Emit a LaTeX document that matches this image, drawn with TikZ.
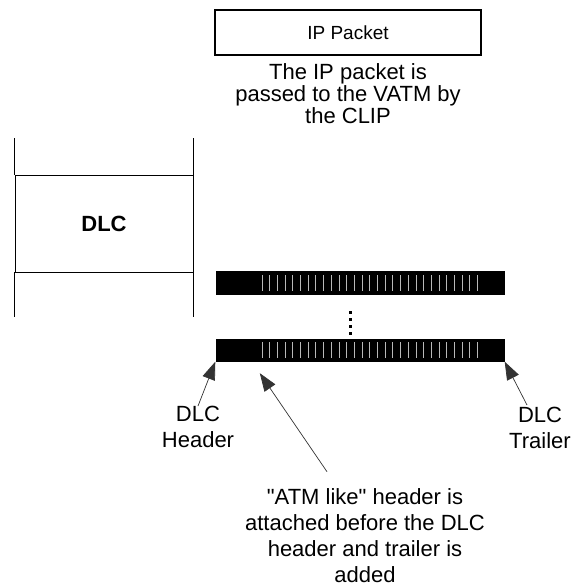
\documentclass[tikz,border=0pt]{standalone}
\usepackage{fontspec}
\setmainfont{Liberation Sans}[Ligatures=TeXOff]
\usetikzlibrary{positioning,calc,arrows.meta}
\tikzset{
  packet/.style={
    draw,
    line width=1.2pt,
    minimum width=266pt,
    minimum height=45pt,
    font=\fontsize{19}{22}\selectfont
  },
  caption/.style={
    align=center,
    inner sep=0pt,
    font=\fontsize{22}{26}\selectfont
  },
  layer/.style={
    draw,
    line width=0.9pt,
    minimum width=178pt,
    minimum height=97pt,
    font=\fontsize{22}{26}\selectfont\bfseries
  },
  cellbar/.style={
    fill=black,
    inner sep=0pt,
    minimum width=289pt,
    minimum height=23pt
  },
  stripe/.style={gray!55, line width=0.6pt},
  dot/.style={fill, inner sep=0pt, minimum size=3pt},
  pointer/.style={draw=black!80, line width=0.7pt, -{Triangle[length=18pt,width=13pt]}}
}
\begin{document}
\begin{tikzpicture}[x=1pt,y=-1pt]
  \useasboundingbox (0,0) rectangle (573,586);
  % packet handed down from the CLIP
  \node[packet] (ip) at (348,32.5) {IP Packet};
  \node[caption, font=\fontsize{22}{22}\selectfont, below=8pt of ip] (pass)
    {The IP packet is\\passed to the VATM by\\the CLIP};
  % DLC layer of the stack
  \node[layer] (dlc) at (104,223.5) {DLC};
  \draw[line width=0.9pt] (dlc.north west) -- ++(0,-37);
  \draw[line width=0.9pt] (dlc.north east) -- ++(0,-37);
  \draw[line width=0.9pt] (dlc.south west) -- ++(0,45);
  \draw[line width=0.9pt] (dlc.south east) -- ++(0,45);
  % frames
  \node[cellbar, minimum height=24pt] (bar1) at (360,283) {};
  \node[cellbar] (bar2) at (360,350) {};
  \foreach \b in {bar1,bar2}{
      \foreach \x in {0,...,28}{
          \draw[stripe] ($(\b.west)+(46.5+7.7*\x,-8)$) -- ++(0,16);
        }
    }
  \foreach \k in {0,...,3}{
      \node[dot] (d\k) at (350,312+7*\k) {};
    }
  % labels and pointers
  \node[caption] (hdr) at (198,427) {DLC\\Header};
  \node[caption] (trl) at (540,428) {DLC\\Trailer};
  \node[caption] (note) at (365,536)
    {"ATM like" header is\\attached before the DLC\\header and trailer is\\added};
  \coordinate (atmhdr) at ($(bar2.south west)+(44.5,11.5)$);
  \draw[pointer] (hdr.north) -- (bar2.south west);
  \draw[pointer] ($(trl.north)+(-13,-2)$) -- (bar2.south east);
  \draw[pointer] ($(note.north)+(-38,-17)$) -- (atmhdr);
\end{tikzpicture}
\end{document}
